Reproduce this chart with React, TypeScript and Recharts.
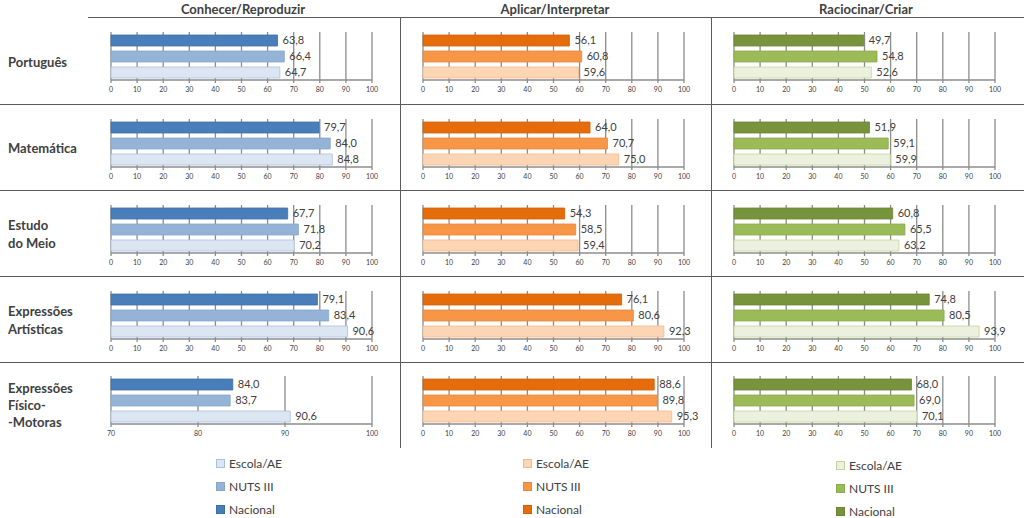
import { BarChart, Bar, XAxis, YAxis, CartesianGrid, Cell, LabelList } from 'recharts'

// ── data ──────────────────────────────────────────────────────────────────────

const SERIES = ['Nacional', 'NUTS III', 'Escola/AE']
const LEGEND_ORDER = ['Escola/AE', 'NUTS III', 'Nacional']
const DIMENSIONS = ['Conhecer/Reproduzir', 'Aplicar/Interpretar', 'Raciocinar/Criar']
const SUBJECTS = [
  ['Português'],
  ['Matemática'],
  ['Estudo', 'do Meio'],
  ['Expressões', 'Artísticas'],
  ['Expressões', 'Físico-', '-Motoras'],
]

const conhecerNacional = [63.8, 79.7, 67.7, 79.1, 84.0]
const conhecerNuts = [66.4, 84.0, 71.8, 83.4, 83.7]
const conhecerEscola = [64.7, 84.8, 70.2, 90.6, 90.6]

const aplicarNacional = [56.1, 64.0, 54.3, 76.1, 88.6]
const aplicarNuts = [60.8, 70.7, 58.5, 80.6, 89.8]
const aplicarEscola = [59.6, 75.0, 59.4, 92.3, 95.3]

const raciocinarNacional = [49.7, 51.9, 60.8, 74.8, 68.0]
const raciocinarNuts = [54.8, 59.1, 65.5, 80.5, 69.0]
const raciocinarEscola = [52.6, 59.9, 63.2, 93.9, 70.1]

const TICKS_FULL = [0, 10, 20, 30, 40, 50, 60, 70, 80, 90, 100]
const TICKS_SHORT = [70, 80, 90, 100]

const VALUES = [
  [conhecerNacional, conhecerNuts, conhecerEscola],
  [aplicarNacional, aplicarNuts, aplicarEscola],
  [raciocinarNacional, raciocinarNuts, raciocinarEscola],
]

// ── styling / layout ──────────────────────────────────────────────────────────

const FONT = 'Lato, "Liberation Sans", sans-serif'
const TEXT = '#404040'
const GRID = '#8c8c8c'
const LINE = '#5a5a5a'

// fill / stroke for [Nacional, NUTS III, Escola/AE]
const PALETTE = [
  { fill: ['#4a7ebb', '#95b3d7', '#dce6f2'], stroke: ['#3f6fa8', '#87a6cc', '#a9c0de'] },
  { fill: ['#e46c0a', '#f79646', '#fcd5b5'], stroke: ['#d0620a', '#e8873d', '#f5b98a'] },
  { fill: ['#77933c', '#9bbb59', '#ebf1de'], stroke: ['#6b8536', '#8cab4f', '#c3d69b'] },
]

const COL_ZERO = [111, 423, 734]
const ROW_TOP = [32, 119, 205, 291, 376]
const LABEL_TOP = [53, 139, 216, 302, 380]
const TITLE_CENTER = [243, 555, 866]
const LEGEND_LEFT = [216, 523, 836]
const LEGEND_TOP = [452, 452, 454]

const fmt = (v: number) => v.toFixed(1).replace('.', ',')

function MiniChart({ col, row }: { col: number; row: number }) {
  const short = col === 0 && row === 4
  const data = SERIES.map((name, i) => ({ name, value: VALUES[col][i][row] }))
  const pal = PALETTE[col]
  return (
    <div style={{ position: 'absolute', left: COL_ZERO[col] - 5, top: ROW_TOP[row] }}>
      <BarChart
        width={283}
        height={62}
        data={data}
        layout="vertical"
        margin={{ top: 0, right: 17, left: 5, bottom: 0 }}
        barSize={11}
      >
        <CartesianGrid horizontal={false} stroke={GRID} strokeWidth={1.3} />
        <XAxis
          type="number"
          domain={short ? [70, 100] : [0, 100]}
          ticks={short ? TICKS_SHORT : TICKS_FULL}
          interval={0}
          height={14}
          tick={{ fontSize: 7, fill: TEXT, fontFamily: FONT }}
          tickSize={3}
          tickMargin={4}
          stroke={GRID}
          strokeWidth={1.3}
        />
        <YAxis type="category" dataKey="name" hide />
        <Bar dataKey="value" isAnimationActive={false} strokeWidth={0.8}>
          {data.map((d, i) => (
            <Cell key={d.name} fill={pal.fill[i]} stroke={pal.stroke[i]} />
          ))}
          <LabelList
            dataKey="value"
            position="right"
            offset={5}
            formatter={(v: any) => fmt(Number(v))}
            style={{ fontSize: 11, fill: TEXT, fontFamily: FONT }}
          />
        </Bar>
      </BarChart>
    </div>
  )
}

function HLine({ y, x1, x2 }: { y: number; x1: number; x2: number }) {
  return <div style={{ position: 'absolute', left: x1, top: y, width: x2 - x1, height: 1, background: LINE }} />
}

function VLine({ x, y1, y2 }: { x: number; y1: number; y2: number }) {
  return <div style={{ position: 'absolute', left: x, top: y1, width: 1, height: y2 - y1, background: LINE }} />
}

export default function App() {
  return (
    <div
      style={{
        position: 'absolute',
        left: 0,
        top: 0,
        width: 1024,
        height: 518,
        background: '#fff',
        fontFamily: FONT,
        color: TEXT,
        overflow: 'hidden',
      }}
    >
      {/* grid of the table */}
      <HLine y={17} x1={88} x2={1024} />
      {[104, 190, 276, 362].map((y) => (
        <HLine key={y} y={y} x1={0} x2={1024} />
      ))}
      <VLine x={400} y1={17} y2={448} />
      <VLine x={711} y1={17} y2={448} />

      {/* column titles */}
      {DIMENSIONS.map((t, c) => (
        <div
          key={t}
          style={{
            position: 'absolute',
            left: TITLE_CENTER[c] - 120,
            width: 240,
            top: 1,
            textAlign: 'center',
            fontWeight: 700,
            fontSize: 13,
            lineHeight: '16px',
          }}
        >
          {t}
        </div>
      ))}

      {/* row labels */}
      {SUBJECTS.map((lines, r) => (
        <div
          key={r}
          style={{
            position: 'absolute',
            left: 8,
            top: LABEL_TOP[r],
            fontWeight: 700,
            fontSize: 13,
            lineHeight: r === 4 ? '17px' : '18px',
          }}
        >
          {lines.map((l) => (
            <div key={l}>{l}</div>
          ))}
        </div>
      ))}

      {/* charts */}
      {DIMENSIONS.map((_, c) => SUBJECTS.map((__, r) => <MiniChart key={`${c}-${r}`} col={c} row={r} />))}

      {/* legends */}
      {DIMENSIONS.map((_, c) => (
        <div key={c} style={{ position: 'absolute', left: LEGEND_LEFT[c], top: LEGEND_TOP[c] }}>
          {LEGEND_ORDER.map((name) => {
            const i = SERIES.indexOf(name)
            return (
              <div
                key={name}
                style={{ display: 'flex', alignItems: 'center', height: 23, fontSize: 12, lineHeight: '14px' }}
              >
                <span
                  style={{
                    display: 'inline-block',
                    width: 7,
                    height: 7,
                    background: PALETTE[c].fill[i],
                    border: `1px solid ${PALETTE[c].stroke[i]}`,
                    marginRight: 4,
                  }}
                />
                {name}
              </div>
            )
          })}
        </div>
      ))}
    </div>
  )
}
